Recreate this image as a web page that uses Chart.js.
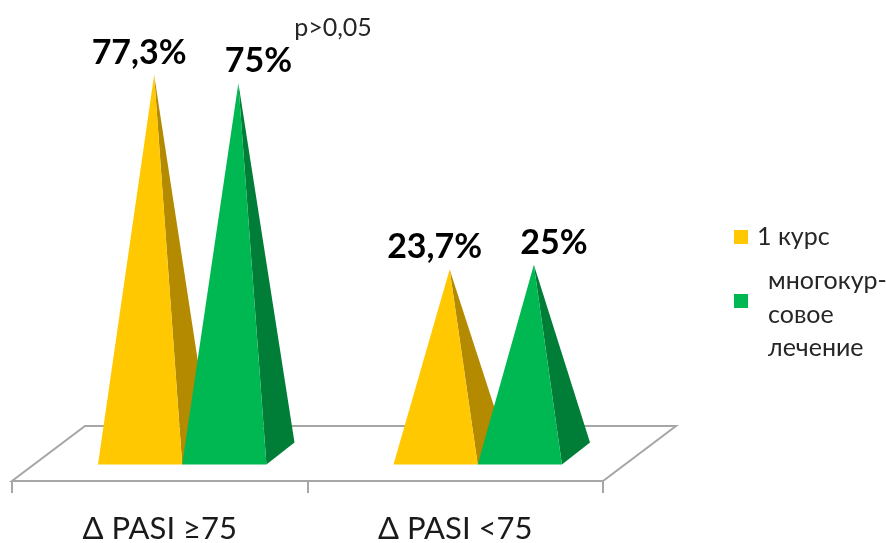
<!DOCTYPE html>
<html>
<head>
<meta charset="utf-8">
<script src="https://cdn.jsdelivr.net/npm/chart.js@4.4.1/dist/chart.umd.min.js"></script>
<style>
  html, body { margin: 0; padding: 0; background: #ffffff; }
  canvas { display: block; }
</style>
</head>
<body>
<canvas id="chart" width="886" height="543"></canvas>
<script>
// Categories and series
const categories = ['Δ PASI ≥75', 'Δ PASI <75'];
const seriesNames = ['1 курс', 'многокурсовое лечение'];
const legendLines = [['1 курс'], ['многокур-', 'совое', 'лечение']];
const oneCourse = [77.3, 23.7];
const multiCourse = [75, 25];
const significanceNote = 'p>0,05';

// Value axis range (the floor sits at the axis minimum)
const axisMin = -27;
const axisMax = 100;

const FONT = 'Lato, "Open Sans", sans-serif';
const faceColors = ['#FFC800', '#00B852'];
const sideColors = ['#B38A00', '#007E38'];

const fmt = v => String(v).replace('.', ',') + '%';

// Perspective of the floor (offset of its back edge from the front edge)
const FLOOR_DX = 73, FLOOR_DY = -55;

const pyramidPlugin = {
  id: 'pyramid3d',
  beforeDatasetsDraw(chart) {
    const { ctx, chartArea } = chart;
    const { left, right, bottom } = chartArea;
    ctx.save();
    ctx.beginPath();
    ctx.moveTo(left, bottom);
    ctx.lineTo(right, bottom);
    ctx.lineTo(right + FLOOR_DX, bottom + FLOOR_DY);
    ctx.lineTo(left + FLOOR_DX, bottom + FLOOR_DY);
    ctx.closePath();
    ctx.fillStyle = '#ffffff';
    ctx.fill();
    ctx.lineWidth = 2;
    ctx.strokeStyle = '#A6A6A6';
    ctx.lineJoin = 'miter';
    ctx.stroke();
    ctx.restore();
  },
  beforeDatasetDraw() {
    // pyramids replace the flat bars
    return false;
  },
  afterDatasetsDraw(chart) {
    const { ctx } = chart;
    const labelSpots = [];
    chart.data.datasets.forEach((ds, di) => {
      const meta = chart.getDatasetMeta(di);
      meta.data.forEach((bar, i) => {
        const w = bar.width;
        const pdx = w / 3, pdy = -w * 0.262;
        const cx = bar.x + FLOOR_DX / 2;
        const cy = chart.chartArea.bottom + FLOOR_DY / 2;
        const apexX = cx;
        const apexY = bar.y + FLOOR_DY / 2;
        const fl = [cx - w / 2 - pdx / 2, cy - pdy / 2];
        const fr = [cx + w / 2 - pdx / 2, cy - pdy / 2];
        const br = [cx + w / 2 + pdx / 2, cy + pdy / 2];
        ctx.save();
        // right-hand face
        ctx.beginPath();
        ctx.moveTo(fr[0], fr[1]);
        ctx.lineTo(br[0], br[1]);
        ctx.lineTo(apexX, apexY);
        ctx.closePath();
        ctx.fillStyle = sideColors[di];
        ctx.fill();
        // front face
        ctx.beginPath();
        ctx.moveTo(fl[0], fl[1]);
        ctx.lineTo(fr[0], fr[1]);
        ctx.lineTo(apexX, apexY);
        ctx.closePath();
        ctx.fillStyle = faceColors[di];
        ctx.fill();
        ctx.restore();
        labelSpots.push({ x: apexX + (di === 0 ? -15 : 20), y: apexY - 11, text: fmt(ds.data[i]) });
      });
    });
    ctx.save();
    ctx.font = 'bold 34px ' + FONT;
    ctx.fillStyle = '#000000';
    ctx.textAlign = 'center';
    ctx.textBaseline = 'alphabetic';
    labelSpots.forEach(s => ctx.fillText(s.text, s.x, s.y));
    ctx.restore();
  },
  afterDraw(chart) {
    const { ctx } = chart;
    ctx.save();
    // significance note
    ctx.font = '25px ' + FONT;
    ctx.fillStyle = '#262626';
    ctx.textAlign = 'center';
    ctx.textBaseline = 'middle';
    ctx.fillText(significanceNote, 333, 28);

    // legend
    const entries = [
      { sq: 237, x: 757, lines: legendLines[0], base: 245 },
      { sq: 301, x: 768, lines: legendLines[1], base: 289 }
    ];
    ctx.textAlign = 'left';
    ctx.textBaseline = 'alphabetic';
    ctx.font = '25px ' + FONT;
    entries.forEach((e, di) => {
      ctx.fillStyle = faceColors[di];
      ctx.fillRect(734, e.sq - 7, 14, 14);
      ctx.fillStyle = '#262626';
      e.lines.forEach((t, li) => ctx.fillText(t, e.x, e.base + li * 33.5));
    });
    ctx.restore();
  }
};

new Chart(document.getElementById('chart'), {
  type: 'bar',
  data: {
    labels: categories,
    datasets: [
      { label: seriesNames[0], data: oneCourse, backgroundColor: faceColors[0] },
      { label: seriesNames[1], data: multiCourse, backgroundColor: faceColors[1] }
    ]
  },
  options: {
    responsive: false,
    animation: false,
    layout: { padding: { left: 12, right: 283, top: 20, bottom: 0 } },
    datasets: { bar: { categoryPercentage: 0.57, barPercentage: 1.0 } },
    plugins: {
      legend: { display: false },
      tooltip: { enabled: false }
    },
    scales: {
      x: {
        offset: true,
        border: { display: false },
        grid: {
          offset: true,
          drawOnChartArea: false,
          drawTicks: true,
          tickLength: 12,
          lineWidth: 2,
          color: '#A6A6A6'
        },
        ticks: {
          color: '#1a1a1a',
          padding: 17,
          font: { family: FONT, size: 31 },
          maxRotation: 0
        },
        afterFit(scale) { scale.height = 62; }
      },
      y: {
        display: false,
        min: axisMin,
        max: axisMax
      }
    }
  },
  plugins: [pyramidPlugin]
});
</script>
</body>
</html>
